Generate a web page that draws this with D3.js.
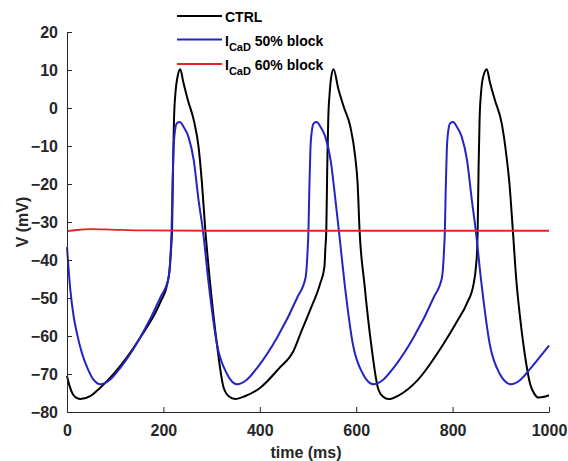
<!DOCTYPE html>
<html>
<head>
<meta charset="utf-8">
<script src="https://cdn.jsdelivr.net/npm/d3@7"></script>
<style>
  html, body { margin: 0; padding: 0; background: #fff; }
  svg { display: block; font-family: "Liberation Sans", Arial, sans-serif; }
</style>
</head>
<body>
<svg id="chart" width="568" height="461"></svg>
<script>
// ---- data ----
const xTicks = [0, 200, 400, 600, 800, 1000];
const yTicks = [-80, -70, -60, -50, -40, -30, -20, -10, 0, 10, 20];

const ctrlT = [0, 5, 12, 20, 28, 48, 69, 100, 125, 152, 194, 208, 214, 216, 218, 220, 222, 225, 229, 235, 241, 251, 263, 273, 280, 287, 297, 311, 325, 337, 349,
  370, 401, 440, 470, 484, 505, 525, 534, 536, 538, 540, 542, 545, 548, 553, 563, 575, 588, 598, 603, 607, 617, 631, 645, 656, 667,
  690, 726, 781, 810, 829, 844, 849, 851, 852, 854, 856, 859, 863, 871, 877, 888, 902, 912, 918, 925, 932, 940, 950, 961, 970, 978, 990, 1000];
const ctrlV = [-70.5, -73, -75.3, -76.3, -76.6, -75.8, -73.6, -69.5, -65.5, -60.4, -51, -46.3, -41, -37, -32, -15, -3, 4, 8, 10.2, 7, 2, -3.2, -10.3, -19.8, -32.2, -46.2, -62.1, -73.6, -76, -76.6,
  -75.8, -73.6, -68.5, -63.9, -59.5, -53, -46.3, -41.9, -37, -32, -15, -3, 4, 8, 10.2, 5, 0, -5, -12.9, -20, -32.2, -46.2, -62.1, -73.6, -76, -76.6,
  -75.5, -71.8, -62.1, -56, -51.6, -46, -41, -37, -32, -15, -3, 4, 8, 10.2, 7, 2, -4.1, -12.9, -20, -32.2, -45, -55.1, -65, -72.7, -75.3, -76.2, -76, -75.6];

const blockT = [0, 7, 14, 21, 31, 42, 55, 69, 89, 111, 152, 194, 211, 215, 217, 219, 221, 224, 228, 234, 242, 252, 263, 273, 282, 294, 311, 332, 353,
  373, 395, 436, 478, 495, 499, 501, 503, 505, 508, 512, 518, 526, 536, 547, 557, 564, 576, 593, 614, 636,
  656, 678, 719, 761, 778, 782, 784, 786, 788, 791, 795, 801, 809, 819, 830, 840, 848, 860, 877, 898, 921, 941, 963, 1000];
const blockV = [-36.6, -48, -55, -59.5, -64.5, -68.3, -71.5, -72.7, -71.5, -68.3, -60.4, -49.8, -44.6, -38, -32, -20, -11, -6, -4, -3.7, -5, -7.6, -13.8, -24.3, -32.2, -46.3, -62.1, -70, -72.7,
  -71.5, -68.3, -60.4, -49.8, -44.6, -38, -32, -20, -11, -6, -4, -3.7, -5, -7.6, -13.8, -24.3, -32.2, -46.3, -62.1, -70, -72.7,
  -71.5, -68.3, -60.4, -49.8, -44.6, -38, -32, -20, -11, -6, -4, -3.7, -5, -7.6, -13.8, -24.3, -32.2, -46.3, -62.1, -70, -72.7, -71.5, -68.3, -62.5];

const block60T = [0, 20, 50, 90, 150, 300, 1000];
const block60V = [-32.4, -32.1, -31.9, -32.0, -32.2, -32.3, -32.3];

const seriesNames = ["CTRL", "50% block", "60% block"];
const seriesColors = ["#000000", "#2424c4", "#e42424"];

// ---- chart ----
const svg = d3.select("#chart");
const x = d3.scaleLinear().domain([0, 1000]).range([67, 549]);
const y = d3.scaleLinear().domain([-80, 20]).range([412, 32]);
const axisColor = "#262626";

const series = [
  { t: ctrlT, v: ctrlV, color: seriesColors[0], w: 2 },
  { t: blockT, v: blockV, color: seriesColors[1], w: 2 },
  { t: block60T, v: block60V, color: seriesColors[2], w: 1.8 }
];

const line = d3.line().x(d => x(d[0])).y(d => y(d[1])).curve(d3.curveMonotoneX);

series.forEach(s => {
  svg.append("path")
    .datum(s.t.map((t, i) => [t, s.v[i]]))
    .attr("fill", "none")
    .attr("stroke", s.color)
    .attr("stroke-width", s.w)
    .attr("stroke-linejoin", "round")
    .attr("d", line);
});

// axes
const xAxis = d3.axisBottom(x).tickValues(xTicks).tickFormat(d3.format("d"))
  .tickSizeInner(-5).tickSizeOuter(0).tickPadding(13);
const gx = svg.append("g").attr("transform", "translate(0,412)").call(xAxis);
const yAxis = d3.axisLeft(y).tickValues(yTicks).tickFormat(d3.format("d"))
  .tickSizeInner(-5).tickSizeOuter(0).tickPadding(9);
const gy = svg.append("g").attr("transform", "translate(67,0)").call(yAxis);

[gx, gy].forEach(g => {
  g.select(".domain").attr("stroke", axisColor).attr("stroke-width", 1);
  g.selectAll(".tick line").attr("stroke", axisColor).attr("stroke-width", 1);
  g.selectAll(".tick text")
    .attr("fill", axisColor)
    .style("font-family", "'Liberation Sans', Arial, sans-serif")
    .style("font-size", "16px")
    .style("font-weight", "bold");
});

// axis labels
svg.append("text")
  .attr("x", 306).attr("y", 458)
  .attr("text-anchor", "middle")
  .attr("fill", axisColor)
  .style("font-size", "16px").style("font-weight", "bold")
  .text("time (ms)");

svg.append("text")
  .attr("transform", "translate(28,222) rotate(-90)")
  .attr("text-anchor", "middle")
  .attr("fill", axisColor)
  .style("font-size", "16px").style("font-weight", "bold")
  .text("V (mV)");

// legend
const legY = [16, 39.5, 64];
const leg = svg.append("g");
series.forEach((s, i) => {
  leg.append("line")
    .attr("x1", 177).attr("x2", 222)
    .attr("y1", legY[i]).attr("y2", legY[i])
    .attr("stroke", s.color).attr("stroke-width", 2);
  const txt = leg.append("text")
    .attr("x", 225).attr("y", legY[i] + 6)
    .attr("fill", "#000")
    .style("font-size", "14px").style("font-weight", "bold");
  if (i === 0) {
    txt.text(seriesNames[0]);
  } else {
    txt.append("tspan").text("I");
    txt.append("tspan").attr("dy", 5).style("font-size", "11px").text("CaD");
    txt.append("tspan").attr("dy", -5).text(" " + seriesNames[i]);
  }
});
</script>
</body>
</html>
